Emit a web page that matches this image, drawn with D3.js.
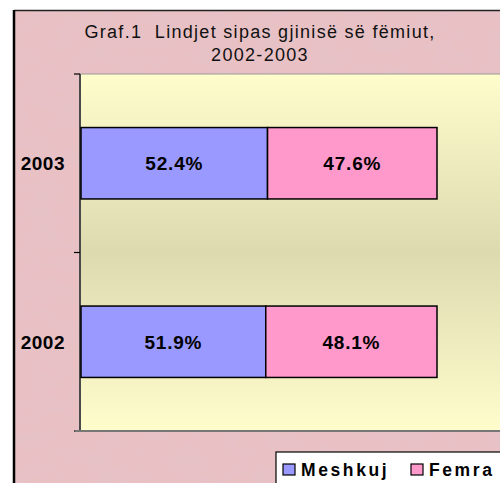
<!DOCTYPE html>
<html>
<head>
<meta charset="utf-8">
<script src="https://cdn.jsdelivr.net/npm/d3@7"></script>
<style>
  body { margin: 0; background: #fff; }
  svg { display: block; }
  text { font-family: Arial, "Liberation Sans", sans-serif; }
</style>
</head>
<body>
<div id="chart"></div>
<script>
// data
const years = ["2003", "2002"];
const meshkuj = [0.524, 0.519];
const femra = [0.476, 0.481];
const seriesNames = ["Meshkuj", "Femra"];
const seriesColors = ["#9999ff", "#ff99cc"];
const titleLines = ["Graf.1  Lindjet sipas gjinisë së fëmiut,", "2002-2003"];

const W = 500, H = 483;
const plot = {left: 80, top: 74, right: 520, bottom: 431};

const svg = d3.select("#chart").append("svg")
    .attr("width", W)
    .attr("height", H);

const defs = svg.append("defs");

// mottled pink paper look
const filt = defs.append("filter").attr("id", "paper")
    .attr("x", 0).attr("y", 0).attr("width", "100%").attr("height", "100%");
filt.append("feTurbulence")
    .attr("type", "fractalNoise")
    .attr("baseFrequency", "0.035 0.06")
    .attr("numOctaves", 3)
    .attr("seed", 4)
    .attr("result", "noise");
filt.append("feColorMatrix")
    .attr("in", "noise")
    .attr("type", "matrix")
    .attr("values", "0 0 0 0 0.72  0 0 0 0 0.55  0 0 0 0 0.58  0 0 0 1.3 -0.5")
    .attr("result", "tint");
filt.append("feComposite").attr("in", "tint").attr("in2", "SourceGraphic").attr("operator", "in");

const grad = defs.append("linearGradient").attr("id", "plotbg")
    .attr("x1", 0).attr("y1", 0).attr("x2", 0).attr("y2", 1);
grad.append("stop").attr("offset", "0%").attr("stop-color", "#fffdcc");
grad.append("stop").attr("offset", "50%").attr("stop-color", "#dddab0");
grad.append("stop").attr("offset", "100%").attr("stop-color", "#fffdcc");

// chart area background + frame
svg.append("rect")
    .attr("x", 14).attr("y", 10).attr("width", W).attr("height", H)
    .attr("fill", "#e9c1c5");
svg.append("rect")
    .attr("x", 14).attr("y", 10).attr("width", W).attr("height", H)
    .attr("fill", "#000")
    .attr("filter", "url(#paper)")
    .attr("opacity", 0.45);
svg.append("line")
    .attr("x1", 14).attr("x2", W).attr("y1", 10.5).attr("y2", 10.5)
    .attr("stroke", "#222").attr("stroke-width", 1.5);
svg.append("line")
    .attr("x1", 14).attr("x2", 14).attr("y1", 10).attr("y2", H)
    .attr("stroke", "#000").attr("stroke-width", 2.5);

// title
svg.append("g").selectAll("text")
  .data(titleLines)
  .join("text")
    .attr("x", 260)
    .attr("y", (d, i) => 38 + i * 23)
    .attr("text-anchor", "middle")
    .style("font-size", "18px")
    .style("letter-spacing", "1.3px")
    .style("white-space", "pre")
    .attr("fill", "#111")
    .text(d => d);

// plot area
svg.append("rect")
    .attr("x", plot.left).attr("y", plot.top)
    .attr("width", plot.right - plot.left).attr("height", plot.bottom - plot.top)
    .attr("fill", "url(#plotbg)")
    .attr("stroke", "#999").attr("stroke-width", 1);

const x = d3.scaleLinear()
    .domain([0, 1])
    .range([81, 437]);

const y = d3.scaleBand()
    .domain(years)
    .range([plot.top, plot.bottom])
    .paddingInner(0.6)
    .paddingOuter(0.3);

// category axis
const yAxis = svg.append("g")
    .attr("transform", "translate(" + plot.left + ",0)");
yAxis.append("line")
    .attr("x1", 0).attr("x2", 0).attr("y1", plot.top).attr("y2", plot.bottom)
    .attr("stroke", "#4a4a4a").attr("stroke-width", 2);
svg.append("line")
    .attr("x1", plot.left - 5).attr("x2", plot.right)
    .attr("y1", plot.bottom).attr("y2", plot.bottom)
    .attr("stroke", "#777").attr("stroke-width", 2);

// ticks sit between the categories
const tickYs = [plot.top, (y("2003") + y.bandwidth() + y("2002")) / 2, plot.bottom];
yAxis.selectAll(".tick")
  .data(tickYs)
  .join("line")
    .attr("x1", -6).attr("x2", 0)
    .attr("y1", d => d).attr("y2", d => d)
    .attr("stroke", "#000").attr("stroke-width", 1.2);

yAxis.selectAll(".cat")
  .data(years)
  .join("text")
    .attr("x", -15)
    .attr("y", d => y(d) + y.bandwidth() / 2)
    .attr("dy", "0.36em")
    .attr("text-anchor", "end")
    .style("font-size", "19px")
    .style("font-weight", "bold")
    .style("letter-spacing", "0.5px")
    .text(d => d);

// stacked bars
const rows = years.map((yr, i) => ({year: yr, values: [meshkuj[i], femra[i]]}));
const segs = [];
rows.forEach(r => {
  let acc = 0;
  r.values.forEach((v, k) => {
    segs.push({year: r.year, x0: acc, x1: acc + v, value: v, k: k});
    acc += v;
  });
});

svg.append("g").selectAll("rect")
  .data(segs)
  .join("rect")
    .attr("x", d => x(d.x0))
    .attr("y", d => y(d.year))
    .attr("width", d => x(d.x1) - x(d.x0))
    .attr("height", y.bandwidth())
    .attr("fill", d => seriesColors[d.k])
    .attr("stroke", "#000")
    .attr("stroke-width", 1.5);

svg.append("g").selectAll("text")
  .data(segs)
  .join("text")
    .attr("x", d => (x(d.x0) + x(d.x1)) / 2)
    .attr("y", d => y(d.year) + y.bandwidth() / 2)
    .attr("dy", "0.36em")
    .attr("text-anchor", "middle")
    .style("font-size", "19px")
    .style("font-weight", "bold")
    .style("letter-spacing", "0.8px")
    .text(d => d3.format(".1%")(d.value));

// legend (box runs off the right / bottom edge like the original)
const legend = svg.append("g").attr("transform", "translate(276,452)");
legend.append("rect")
    .attr("x", 0).attr("y", 0).attr("width", 260).attr("height", 60)
    .attr("fill", "#fff").attr("stroke", "#000").attr("stroke-width", 1.2);
const legX = [7, 135];
const item = legend.selectAll(".item")
  .data(seriesNames)
  .join("g")
    .attr("transform", (d, i) => "translate(" + legX[i] + ",12)");
item.append("rect")
    .attr("width", 12).attr("height", 11)
    .attr("fill", (d, i) => seriesColors[i])
    .attr("stroke", "#000").attr("stroke-width", 1.2);
item.append("text")
    .attr("x", 18).attr("y", 6)
    .attr("dy", "0.36em")
    .style("font-size", "17.5px")
    .style("font-weight", "bold")
    .style("letter-spacing", "2.6px")
    .text(d => d);
</script>
</body>
</html>
